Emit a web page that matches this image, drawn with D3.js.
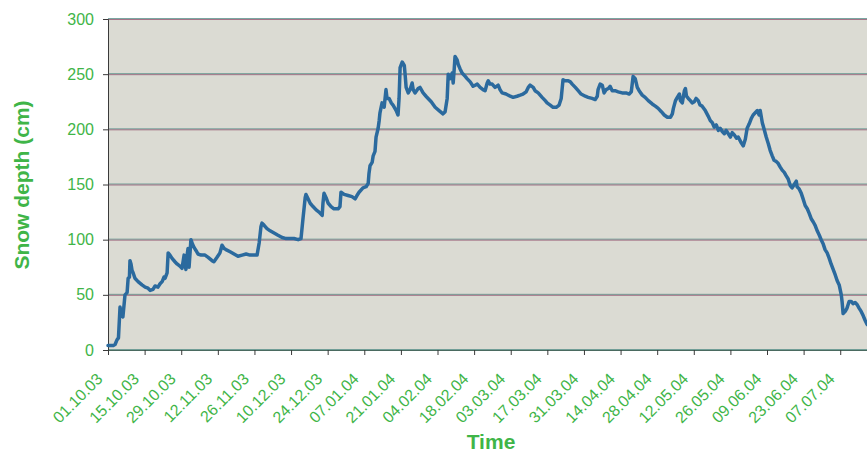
<!DOCTYPE html>
<html><head><meta charset="utf-8">
<script src="https://cdn.jsdelivr.net/npm/d3@7/dist/d3.min.js"></script>
<style>html,body{margin:0;padding:0;background:#fff;}svg{display:block}</style>
</head><body>
<svg id="chart" width="867" height="452"></svg>
<script>
// ---- data ----
const startDate = "01.10.03";          // day 0
const endDate = "18.07.04";            // right end of the time axis
// days since 01.10.03
const dayOffsets = [0,1.9,2.7,3.4,4.0,4.6,5.2,5.7,6.3,6.5,7.3,7.7,8.2,8.4,8.8,9.2,9.6,10.3,11.5,13.0,14.2,15.3,16.1,17.2,18.0,19.1,19.9,20.7,21.4,21.8,22.6,23.0,23.7,24.5,25.6,26.4,27.5,28.3,28.7,29.1,29.5,29.8,30.2,30.6,31.0,31.4,31.7,32.3,32.9,33.7,34.4,35.6,37.1,38.3,39.8,40.5,41.7,42.8,43.6,44.4,45.1,46.7,48.2,49.7,51.3,52.8,54.3,55.8,57.0,57.8,58.5,58.9,59.7,60.8,62.0,63.5,65.0,66.6,68.1,69.6,71.1,72.7,73.8,74.6,75.4,75.7,76.5,77.3,78.4,79.6,80.7,81.9,82.2,82.6,83.4,84.2,85.3,86.4,88.0,88.7,89.1,90.3,91.8,93.3,94.5,95.2,96.0,97.5,98.7,99.5,99.8,100.2,101.0,101.4,102.1,102.5,103.3,103.7,104.0,104.8,105.6,106.3,106.7,107.5,108.3,109.0,110.2,110.9,111.3,111.7,112.5,113.3,113.6,114.0,114.8,115.5,116.3,116.7,117.4,118.6,119.3,120.5,121.6,122.4,123.6,125.1,126.6,128.1,128.9,129.7,130.1,130.8,131.6,132.0,132.4,132.7,133.5,133.9,134.6,135.4,136.6,137.3,138.5,139.6,140.4,141.2,142.3,143.4,144.2,145.0,145.4,146.1,146.9,148.0,149.2,149.9,150.7,152.2,153.8,154.9,156.4,157.6,158.7,159.9,160.7,161.4,162.6,163.3,164.5,166.0,167.2,167.9,169.1,170.2,171.4,172.5,173.3,174.0,174.8,176.0,176.8,177.5,178.7,179.8,180.9,182.5,183.6,185.1,186.3,187.1,187.4,188.2,189.0,189.7,190.5,191.3,192.0,192.8,193.9,195.1,196.6,198.1,199.3,200.1,200.8,201.6,202.4,203.1,204.3,205.4,206.6,208.1,209.3,210.4,211.6,212.7,213.9,215.1,215.8,216.2,217.0,217.7,218.5,218.9,219.6,220.4,220.8,221.2,221.9,222.7,223.4,224.2,224.9,225.7,226.4,227.2,228.4,229.5,230.3,231.1,231.8,232.6,233.4,234.1,234.9,235.7,236.4,237.2,238.0,238.7,239.5,240.3,241.0,242.1,242.9,243.7,244.4,245.2,246.0,246.7,247.5,248.3,249.0,249.4,250.2,250.9,251.7,252.5,253.2,254.0,254.7,255.5,256.3,257.0,257.8,258.6,259.3,260.1,260.9,261.6,262.4,263.2,263.5,264.3,265.1,265.8,266.6,267.4,268.1,268.9,269.7,270.4,271.2,272.0,272.7,273.5,274.2,275.0,275.8,276.5,277.3,278.1,278.8,279.6,280.4,280.7,281.1,281.9,282.6,283.4,284.2,284.9,285.7,286.5,287.2,288.0,288.8,289.5,290.3];
// snow depth, cm
const depths = [4,4,5,9,11,39,31,30,45,50,52,65,66,81,78,72,70,65,62,59,57,56,54,55,58,57,60,62,66,65,70,88,86,83,80,78,76,74,80,86,78,73,85,92,75,89,100,96,93,90,87,86,86,84,81,80,84,88,95,92,91,89,87,85,86,87,86,86,86,97,112,115,113,110,108,106,104,102,101,101,101,100,101,120,138,141,137,133,130,127,125,122,133,142,138,133,130,128,128,130,143,141,140,139,137,140,143,147,148,151,160,167,170,176,180,193,201,208,215,224,220,236,228,228,224,222,217,213,228,256,261,258,250,238,233,236,242,236,233,237,238,233,230,228,225,220,217,214,216,228,250,246,251,242,255,266,263,259,255,251,248,246,243,239,240,241,238,236,235,242,244,241,241,238,240,236,233,232,230,229,230,231,232,234,238,240,238,235,233,229,226,224,222,220,220,222,228,245,244,244,243,241,238,235,232,230,229,228,227,230,236,241,240,233,236,237,239,235,235,234,233,233,232,234,248,246,238,235,231,229,226,223,221,219,216,213,211,211,214,219,226,229,232,226,224,235,237,230,228,226,224,225,228,226,222,221,217,212,208,206,202,204,199,201,198,196,199,196,193,197,195,192,193,188,185,191,201,205,210,213,215,217,213,217,206,200,193,187,181,176,172,171,169,166,163,161,158,155,149,147,150,153,148,146,142,137,131,128,124,119,116,113,108,104,100,96,91,88,83,78,73,68,63,59,50,44,33,35,38,44,44,42,43,41,38,35,31,27,23];
const xTickLabels = ["01.10.03","15.10.03","29.10.03","12.11.03","26.11.03","10.12.03","24.12.03","07.01.04","21.01.04","04.02.04","18.02.04","03.03.04","17.03.04","31.03.04","14.04.04","28.04.04","12.05.04","26.05.04","09.06.04","23.06.04","07.07.04"];
const yTicks = [0,50,100,150,200,250,300];
const yTitle = "Snow depth (cm)";
const xTitle = "Time";

// ---- drawing ----
const parse = d3.timeParse("%d.%m.%y");
const t0 = parse(startDate);
const points = dayOffsets.map((d,i)=>({date:new Date(t0.getTime()+d*864e5), v:depths[i]}));

const svg = d3.select("#chart");
const L = 108, T = 19, B = 350, R = 869;
const x = d3.scaleTime().domain([t0, parse(endDate)]).range([L, R]);
const y = d3.scaleLinear().domain([0,300]).range([B, T]);
const green = "#3fb548";
const font = "'Liberation Sans', Arial, sans-serif";

svg.append("rect").attr("x",L).attr("y",T).attr("width",867-L).attr("height",B-T).attr("fill","#dbdbd3");

// gridlines (scan look: teal above magenta)
const grid = svg.append("g");
yTicks.forEach(v=>{
  grid.append("line").attr("x1",L).attr("x2",867).attr("y1",y(v)-0.5).attr("y2",y(v)-0.5)
    .attr("stroke","#4e8a84").attr("stroke-width",1).attr("opacity",0.75);
  grid.append("line").attr("x1",L).attr("x2",867).attr("y1",y(v)+0.5).attr("y2",y(v)+0.5)
    .attr("stroke","#8e4a68").attr("stroke-width",1).attr("opacity",0.7);
});

// y axis
const yAxis = svg.append("g").attr("transform",`translate(${L},0)`)
  .call(d3.axisLeft(y).tickValues(yTicks).tickSize(5).tickPadding(9).tickFormat(d3.format("d")));
yAxis.select(".domain").attr("stroke","#3a3a3a");
yAxis.selectAll(".tick line").attr("stroke","#3a3a3a");
yAxis.selectAll("text").attr("fill",green).style("font-family",font).style("font-size","16px");

// x axis
const xAxis = svg.append("g").attr("transform",`translate(0,${B})`)
  .call(d3.axisBottom(x).tickValues(xTickLabels.map(parse)).tickSize(5).tickFormat(d3.timeFormat("%d.%m.%y")));
xAxis.select(".domain").attr("stroke","#4a6a60");
xAxis.selectAll(".tick line").attr("stroke","#3a3a3a");
xAxis.selectAll("text").attr("fill",green).style("font-family",font).style("font-size","16px")
  .attr("text-anchor","end").attr("x",0).attr("y",0).attr("dy",0)
  .attr("transform","translate(-5,30) rotate(-45)");

// line
svg.append("path").datum(points)
  .attr("fill","none").attr("stroke","#2b6a9e").attr("stroke-width",3.5)
  .attr("stroke-linejoin","round").attr("stroke-linecap","round")
  .attr("d", d3.line().x(d=>x(d.date)).y(d=>y(d.v)));

// titles
svg.append("text").attr("transform","translate(29,185) rotate(-90)").attr("text-anchor","middle")
  .attr("fill",green).style("font-family",font).style("font-size","21px").style("font-weight","bold").text(yTitle);
svg.append("text").attr("x",491).attr("y",449).attr("text-anchor","middle")
  .attr("fill",green).style("font-family",font).style("font-size","21px").style("font-weight","bold").text(xTitle);
</script>
</body></html>
